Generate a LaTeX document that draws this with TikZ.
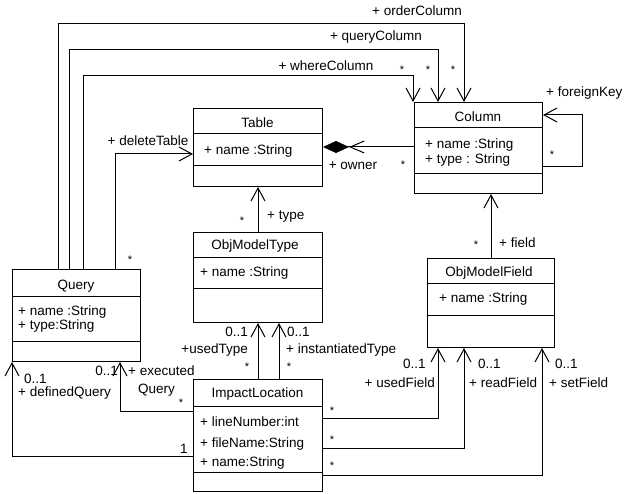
\documentclass[tikz,border=0pt]{standalone}
\usepackage{fontspec}
\setmainfont{Liberation Sans}
\usetikzlibrary{arrows.meta,calc}
\newcommand\lblfont{\fontsize{13.5}{16}\selectfont}
\begin{document}
\begin{tikzpicture}[x=1pt,y=-1pt,
  box/.style={draw, line width=1pt, anchor=north west, inner sep=0pt},
  sepline/.style={line width=1pt},
  assoc/.style={line width=1pt, -{Straight Barb[length=13pt,width=14pt]}},
  t/.style={inner sep=0pt, font=\lblfont, anchor=base},
  tw/.style={t, anchor=base west},
  te/.style={t, anchor=base east},
  st/.style={inner sep=0pt, font=\fontsize{11}{13}\selectfont, anchor=center}
]
\useasboundingbox (0,0) rectangle (624,494);

% ---- classes ----
\node[box, minimum width=128pt, minimum height=92pt] (query) at (12,269) {};
\draw[sepline] ($(query.north west)+(0,28)$) -- ++(128,0);
\draw[sepline] ($(query.north west)+(0,73)$) -- ++(128,0);
\node[t] (queryT) at (76,290) {Query};
\node[tw] (queryA1) at (18,316) {+ name :String};
\node[tw] (queryA2) at (18,330) {+ type:String};

\node[box, minimum width=129pt, minimum height=78pt] (table) at (193,108) {};
\draw[sepline] ($(table.north west)+(0,26)$) -- ++(129,0);
\draw[sepline] ($(table.north west)+(0,58)$) -- ++(129,0);
\node[t] (tableT) at (257.5,128) {Table};
\node[tw] (tableA1) at (204,155) {+ name :String};

\node[box, minimum width=128pt, minimum height=91pt] (column) at (414,102) {};
\draw[sepline] ($(column.north west)+(0,26)$) -- ++(128,0);
\draw[sepline] ($(column.north west)+(0,72)$) -- ++(128,0);
\node[t] (columnT) at (478,122) {Column};
\node[tw] (columnA1) at (425,149) {+ name :String};
\node[tw] (columnA2) at (425,164) {+ type : String};

\node[box, minimum width=129pt, minimum height=90pt] (objtype) at (193,232) {};
\draw[sepline] ($(objtype.north west)+(0,26)$) -- ++(129,0);
\draw[sepline] ($(objtype.north west)+(0,57)$) -- ++(129,0);
\node[t] (objtypeT) at (255,250) {ObjModelType};
\node[tw] (objtypeA1) at (200,277) {+ name :String};

\node[box, minimum width=127pt, minimum height=89pt] (objfield) at (427,258) {};
\draw[sepline] ($(objfield.north west)+(0,26)$) -- ++(127,0);
\draw[sepline] ($(objfield.north west)+(0,58)$) -- ++(127,0);
\node[t] (objfieldT) at (489,277) {ObjModelField};
\node[tw] (objfieldA1) at (439,303) {+ name :String};

\node[box, minimum width=129pt, minimum height=112pt] (impact) at (193,379) {};
\draw[sepline] ($(impact.north west)+(0,27)$) -- ++(129,0);
\draw[sepline] ($(impact.north west)+(0,93)$) -- ++(129,0);
\node[t] (impactT) at (257.5,397) {ImpactLocation};
\node[tw] (impactA1) at (200,426) {+ lineNumber:int};
\node[tw] (impactA2) at (200,447) {+ fileName:String};
\node[tw] (impactA3) at (200,466) {+ name:String};

% ---- associations ----
% orderColumn
\draw[assoc] ($(query.north west)+(46,0)$) -- ++(0,-245) -| ($(column.north west)+(50,0)$);
\node[t] (lOrder) at (417,16) {+ orderColumn};
\node[st] (mOrder) at (453,70) {*};
% queryColumn
\draw[assoc] ($(query.north west)+(57,0)$) -- ++(0,-219) -| ($(column.north west)+(24,0)$);
\node[t] (lQuery) at (376,41) {+ queryColumn};
\node[st] (mQuery) at (428,70) {*};
% whereColumn
\draw[assoc] ($(query.north west)+(71,0)$) -- ++(0,-193) -| ($(column.north west)+(-1,0)$);
\node[t] (lWhere) at (326,71) {+ whereColumn};
\node[st] (mWhere) at (402,70) {*};
% deleteTable
\draw[assoc] ($(query.north west)+(103,0)$) |- ($(table.north west)+(0,46)$);
\node[t] (lDelete) at (148,146) {+ deleteTable};
\node[st] (mDelete) at (130,260) {*};
% owner (composition)
\draw[line width=1pt, -{Straight Barb[length=14pt,width=12pt] Diamond[length=26pt,width=12pt,fill=black]}]
  ($(column.north west)+(0,45)$) -- ($(table.north east)+(0,39)$);
\node[t] (lOwner) at (353,170) {+ owner};
\node[st] (mOwner) at (403,165) {*};
% foreignKey
\draw[assoc] ($(column.north east)+(0,65)$) -- ++(39,0) |- ($(column.north east)+(0,13)$);
\node[tw] (lForeign) at (546,97) {+ foreignKey};
\node[st] (mForeign) at (552,155) {*};
% type
\draw[assoc] (objtype.north) -- (table.south);
\node[tw] (lType) at (267,220) {+ type};
\node[st] (mType) at (242,221) {*};
% field
\draw[assoc] (objfield.north) -- (objfield.north |- column.south);
\node[tw] (lField) at (499,248) {+ field};
\node[st] (mField) at (476,245) {*};
% usedType
\draw[assoc] ($(impact.north west)+(65,0)$) -- ($(objtype.south west)+(65,0)$);
\node[te] (mUsedType0) at (248,337) {0..1};
\node[te] (lUsedType) at (248,353) {+usedType};
\node[st] (mUsedType) at (247,367) {*};
% instantiatedType
\draw[assoc] ($(impact.north west)+(86,0)$) -- ($(objtype.south west)+(86,0)$);
\node[tw] (mInst0) at (287,337) {0..1};
\node[tw] (lInst) at (286,353) {+ instantiatedType};
\node[st] (mInst) at (289,367) {*};
% executedQuery
\draw[assoc] ($(impact.north west)+(0,32)$) -| ($(query.south west)+(108,0)$);
\node[te] (mExec0) at (118,376) {0..1};
\node[tw] (lExec1) at (128,375) {+ executed};
\node[tw] (lExec2) at (138,393) {Query};
\node[st] (mExec) at (181,403) {*};
% definedQuery
\draw[assoc] ($(impact.north west)+(0,77)$) -| (query.south west);
\node[tw] (mDef0) at (24,383) {0..1};
\node[tw] (lDef) at (18,396) {+ definedQuery};
\node[t] (mDef) at (184,453) {1};
% usedField
\draw[assoc] ($(impact.north east)+(0,39)$) -| ($(objfield.south west)+(11,0)$);
\node[tw] (mUsedF0) at (403,369) {0..1};
\node[te] (lUsedF) at (435,387) {+ usedField};
\node[st] (mUsedF) at (332,411) {*};
% readField
\draw[assoc] ($(impact.north east)+(0,69)$) -| ($(objfield.south west)+(37,0)$);
\node[tw] (mReadF0) at (478,369) {0..1};
\node[tw] (lReadF) at (469,387) {+ readField};
\node[st] (mReadF) at (332,440) {*};
% setField
\draw[assoc] ($(impact.north east)+(0,96)$) -| ($(objfield.south west)+(115,0)$);
\node[tw] (mSetF0) at (555,369) {0..1};
\node[tw] (lSetF) at (549,387) {+ setField};
\node[st] (mSetF) at (332,466) {*};
\end{tikzpicture}
\end{document}
